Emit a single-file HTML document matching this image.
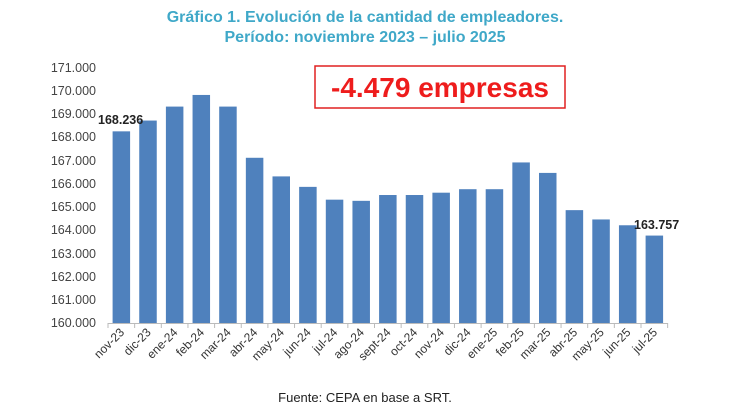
<!DOCTYPE html>
<html><head><meta charset="utf-8"><style>body{margin:0;background:#fff}svg{display:block}</style></head>
<body>
<svg width="730" height="411" xmlns="http://www.w3.org/2000/svg" font-family="Liberation Sans, Arial, sans-serif">
<text x="365" y="22" text-anchor="middle" font-size="16" font-weight="bold" fill="#3fa8c8">Gráfico 1. Evolución de la cantidad de empleadores.</text>
<text x="365" y="42" text-anchor="middle" font-size="16" font-weight="bold" fill="#3fa8c8">Período: noviembre 2023 – julio 2025</text>
<rect x="315" y="66" width="250" height="42" fill="#fff" stroke="#e02020" stroke-width="1.5"/>
<text x="440" y="97" text-anchor="middle" font-size="28" font-weight="bold" fill="#ee1c1c">-4.479 empresas</text>
<g font-size="12.5" fill="#444" text-anchor="end">
<text x="96" y="72">171.000</text><text x="96" y="95">170.000</text><text x="96" y="118">169.000</text><text x="96" y="141">168.000</text><text x="96" y="165">167.000</text><text x="96" y="188">166.000</text><text x="96" y="211">165.000</text><text x="96" y="234">164.000</text><text x="96" y="258">163.000</text><text x="96" y="281">162.000</text><text x="96" y="304">161.000</text><text x="96" y="327">160.000</text>
</g>
<g id="bars" fill="#4f81bd"></g>
<line x1="108" y1="323.5" x2="668" y2="323.5" stroke="#bbb" stroke-width="1"/>
<g id="ticks" stroke="#bbb"></g>
<g id="labels" font-size="12" fill="#333"></g>
<text x="98" y="124" font-size="12.5" font-weight="bold" fill="#222">168.236</text>
<text x="634" y="229" font-size="12.5" font-weight="bold" fill="#222">163.757</text>
<text x="365" y="402" text-anchor="middle" font-size="13" fill="#222">Fuente: CEPA en base a SRT.</text>
<script>
var v=[168.236,168.7,169.3,169.8,169.3,167.1,166.3,165.85,165.3,165.25,165.5,165.5,165.6,165.75,165.75,166.9,166.45,164.85,164.45,164.2,163.757];
var n=["nov-23","dic-23","ene-24","feb-24","mar-24","abr-24","may-24","jun-24","jul-24","ago-24","sept-24","oct-24","nov-24","dic-24","ene-25","feb-25","mar-25","abr-25","may-25","jun-25","jul-25"];
var ns="http://www.w3.org/2000/svg",b=document.getElementById("bars"),t=document.getElementById("ticks"),l=document.getElementById("labels");
var sp=26.65,x0=108;
for(var i=0;i<21;i++){var y=323-(v[i]-160)*23.27;var r=document.createElementNS(ns,"rect");r.setAttribute("x",x0+i*sp+4.6);r.setAttribute("y",y);r.setAttribute("width",17.5);r.setAttribute("height",323-y);b.appendChild(r);
var ln=document.createElementNS(ns,"line");ln.setAttribute("x1",x0+i*sp);ln.setAttribute("x2",x0+i*sp);ln.setAttribute("y1",323);ln.setAttribute("y2",328);t.appendChild(ln);
var cx=x0+i*sp+17,tx=document.createElementNS(ns,"text");tx.setAttribute("x",cx);tx.setAttribute("y",333);tx.setAttribute("text-anchor","end");tx.setAttribute("transform","rotate(-45 "+cx+" 333)");tx.textContent=n[i];l.appendChild(tx);}
var ln=document.createElementNS(ns,"line");ln.setAttribute("x1",x0+21*sp);ln.setAttribute("x2",x0+21*sp);ln.setAttribute("y1",323);ln.setAttribute("y2",328);t.appendChild(ln);
</script>
</svg>
</body></html>
